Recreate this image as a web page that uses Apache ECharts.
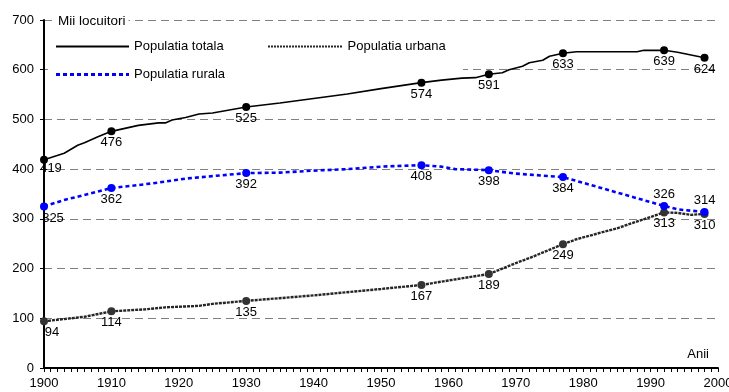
<!DOCTYPE html>
<html>
<head>
<meta charset="utf-8">
<script src="https://cdn.jsdelivr.net/npm/echarts@6/dist/echarts.min.js"></script>
<style>
html,body{margin:0;padding:0;background:#fff;}
#chart{width:729px;height:392px;}
</style>
</head>
<body>
<div id="chart"></div>
<script>
// ---- data ----
const censusYears   = [1900, 1910, 1930, 1956, 1966, 1977, 1992, 1998];
const totalCensus   = [419, 476, 525, 574, 591, 633, 639, 624];
const urbanCensus   = [94, 114, 135, 167, 189, 249, 313, 310];
const ruralCensus   = [325, 362, 392, 408, 398, 384, 326, 314];

// curves between census points
const totalLineYears  = [1900, 1903, 1905, 1906, 1908, 1910, 1914, 1917, 1918, 1919, 1921, 1923, 1925, 1930, 1935, 1940, 1945, 1950, 1956, 1959, 1962, 1964, 1966, 1968, 1969, 1971, 1972, 1974, 1975, 1977, 1979, 1988, 1989, 1992, 1994, 1998];
const totalLineValues = [419, 432, 448, 453, 465, 476, 488, 493, 493, 499, 504, 511, 513, 525, 533, 542, 551, 562, 574, 579, 583, 584, 591, 594, 600, 607, 614, 619, 627, 633, 636, 636, 639, 639, 635, 624];

const ruralLineYears  = [1900, 1903, 1906, 1910, 1914, 1917, 1921, 1925, 1930, 1935, 1940, 1945, 1950, 1956, 1959, 1961, 1966, 1970, 1977, 1992, 1994, 1998];
const ruralLineValues = [325, 338, 348, 362, 368, 373, 381, 386, 392, 393, 397, 400, 405, 408, 405, 400, 398, 391, 384, 326, 319, 314];

const urbanLineYears  = [1900, 1906, 1910, 1915, 1918, 1923, 1925, 1930, 1940, 1950, 1956, 1960, 1966, 1970, 1972, 1977, 1979, 1985, 1992, 1994, 1996, 1998];
const urbanLineValues = [94, 103, 114, 118, 122, 125, 129, 135, 146, 159, 167, 176, 189, 211, 221, 249, 259, 281, 313, 312, 308, 310];

const yTicks = [0, 100, 200, 300, 400, 500, 600, 700];
const xTicks = [1900, 1910, 1920, 1930, 1940, 1950, 1960, 1970, 1980, 1990, 2000];

const NAME_TOTAL = 'Populatia totala';
const NAME_URBAN = 'Populatia urbana';
const NAME_RURAL = 'Populatia rurala';

// ---- helpers ----
const FONT = '"Liberation Sans", Arial, Helvetica, sans-serif';
const pairs = (xs, ys) => xs.map((x, i) => [x, ys[i]]);
function dashPath(w, h, on, off) {
  let d = '';
  for (let x = 0; x < w; x += on + off) {
    const e = Math.min(x + on, w);
    d += 'M' + x + ',0H' + e + 'V' + h + 'H' + x + 'Z';
  }
  return 'path://' + d;
}
function censusPoints(values, topIdx, firstOffset) {
  return censusYears.map((yr, i) => {
    const item = { value: [yr, values[i]] };
    const lab = {};
    if (topIdx.indexOf(i) >= 0) lab.position = 'top';
    if (i === 0) lab.offset = firstOffset;
    if (Object.keys(lab).length) item.label = lab;
    return item;
  });
}
const labelBase = { show: true, position: 'bottom', distance: 1, color: '#000', fontSize: 13, fontFamily: FONT, opacity: 1 };
const legendText = { color: '#000', fontSize: 13, fontFamily: FONT };

const chart = echarts.init(document.getElementById('chart'), null, { renderer: 'canvas' });
chart.setOption({
  animation: false,
  backgroundColor: '#fff',
  title: [
    { text: 'Mii locuitori', left: 55, top: 13, padding: [1, 3, 1, 3], backgroundColor: '#fff',
      textStyle: { fontSize: 13.5, fontWeight: 'normal', color: '#000', fontFamily: FONT } },
    { text: 'Anii', right: 20, top: 348, padding: 0,
      textStyle: { fontSize: 13, fontWeight: 'normal', color: '#000', fontFamily: FONT } }
  ],
  graphic: { elements: [
    { type: 'rect', shape: { x: 48, y: 31, width: 415, height: 57 }, style: { fill: '#fff' }, z: 1, silent: true }
  ] },
  legend: [
    { data: [{ name: NAME_TOTAL, icon: 'path://M0,0H73V2H0Z' }], left: 56, top: 40, padding: 0,
      itemWidth: 73, itemHeight: 2, selectedMode: false, textStyle: legendText },
    { data: [{ name: NAME_URBAN, icon: dashPath(75, 2, 2, 1) }], left: 268, top: 40, padding: 0,
      itemWidth: 75, itemHeight: 2, selectedMode: false, textStyle: legendText },
    { data: [{ name: NAME_RURAL, icon: dashPath(73, 3, 4, 3) }], left: 56, top: 68, padding: 0,
      itemWidth: 73, itemHeight: 3, selectedMode: false, textStyle: legendText }
  ],
  grid: { left: 44, right: 11, top: 20, bottom: 24, containLabel: false, outerBoundsMode: 'none' },
  xAxis: {
    type: 'value', min: xTicks[0], max: xTicks[xTicks.length - 1], interval: 10,
    axisLine: { show: true, onZero: false, lineStyle: { color: '#000', width: 2 } },
    axisTick: { show: true, length: 4, lineStyle: { color: '#000', width: 1 } },
    minorTick: { show: true, splitNumber: 10, length: 4, lineStyle: { color: '#000', width: 1 } },
    axisLabel: { color: '#000', fontSize: 13, fontFamily: FONT, margin: 9, formatter: v => String(v) },
    splitLine: { show: false }
  },
  yAxis: {
    type: 'value', min: yTicks[0], max: yTicks[yTicks.length - 1], interval: 100,
    axisLine: { show: true, lineStyle: { color: '#000', width: 2 } },
    axisTick: { show: true, length: 4, lineStyle: { color: '#000', width: 1 } },
    axisLabel: { color: '#000', fontSize: 13, fontFamily: FONT, margin: 10, formatter: v => String(v) },
    splitLine: { show: true, lineStyle: { color: '#808080', width: 1, type: [8, 5] } }
  },
  series: [
    { name: NAME_TOTAL, type: 'line', data: pairs(totalLineYears, totalLineValues), symbol: 'none', showSymbol: false,
      color: '#000', lineStyle: { color: '#000', width: 1.6 }, z: 3 },
    { name: NAME_URBAN, type: 'line', data: pairs(urbanLineYears, urbanLineValues), symbol: 'none', showSymbol: false,
      color: '#262626', lineStyle: { color: '#262626', width: 2.4, type: [3, 1] }, z: 3 },
    { name: NAME_RURAL, type: 'line', data: pairs(ruralLineYears, ruralLineValues), symbol: 'none', showSymbol: false,
      color: '#0000ff', lineStyle: { color: '#0000ff', width: 2.6, type: [4, 3] }, z: 3 },
    { name: NAME_TOTAL, type: 'scatter', data: censusPoints(totalCensus, [], [7, -3]), symbol: 'circle', symbolSize: 8,
      itemStyle: { color: '#000', opacity: 1 }, label: labelBase, z: 4 },
    { name: NAME_URBAN, type: 'scatter', data: censusPoints(urbanCensus, [], [8, 0]), symbol: 'circle', symbolSize: 8,
      itemStyle: { color: '#333', opacity: 1 }, label: labelBase, z: 4 },
    { name: NAME_RURAL, type: 'scatter', data: censusPoints(ruralCensus, [6, 7], [9, 0]), symbol: 'circle', symbolSize: 8,
      itemStyle: { color: '#0000ff', opacity: 1 }, label: labelBase, z: 4 }
  ]
});
</script>
</body>
</html>
